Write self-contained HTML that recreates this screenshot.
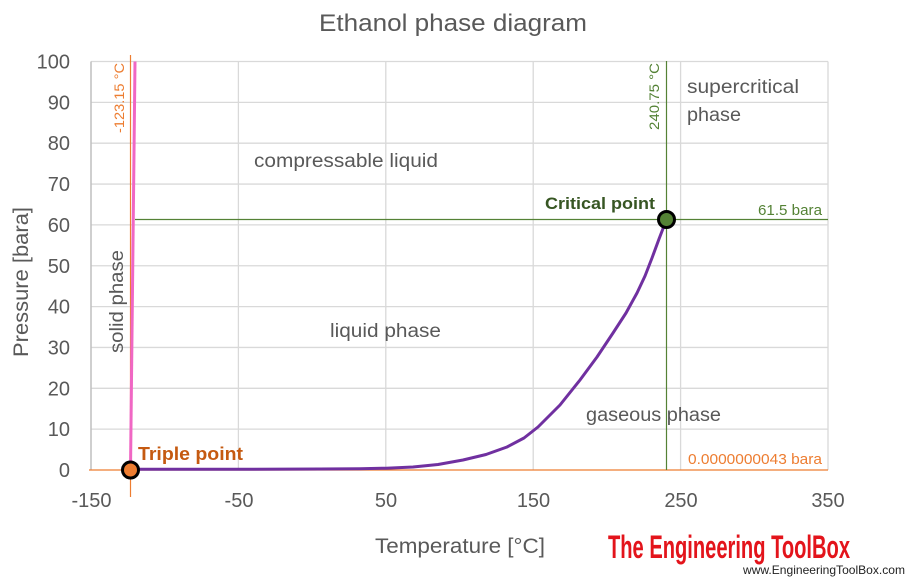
<!DOCTYPE html>
<html>
<head>
<meta charset="utf-8">
<style>
  html,body{margin:0;padding:0;background:#fff;}
  svg{display:block;}
  text{font-family:"Liberation Sans",sans-serif;}
</style>
</head>
<body>
<svg width="912" height="581" viewBox="0 0 912 581" xmlns="http://www.w3.org/2000/svg">
  <rect width="912" height="581" fill="#fff"/>
  <!-- gridlines -->
  <g stroke="#d9d9d9" stroke-width="1.3">
    <line x1="91" y1="429.15" x2="828" y2="429.15"/>
    <line x1="91" y1="388.3" x2="828" y2="388.3"/>
    <line x1="91" y1="347.45" x2="828" y2="347.45"/>
    <line x1="91" y1="306.6" x2="828" y2="306.6"/>
    <line x1="91" y1="265.75" x2="828" y2="265.75"/>
    <line x1="91" y1="224.9" x2="828" y2="224.9"/>
    <line x1="91" y1="184.05" x2="828" y2="184.05"/>
    <line x1="91" y1="143.2" x2="828" y2="143.2"/>
    <line x1="91" y1="102.35" x2="828" y2="102.35"/>
    <line x1="91" y1="61.5" x2="828" y2="61.5"/>
    <line x1="238.4" y1="61.5" x2="238.4" y2="470"/>
    <line x1="385.8" y1="61.5" x2="385.8" y2="470"/>
    <line x1="533.2" y1="61.5" x2="533.2" y2="470"/>
    <line x1="680.6" y1="61.5" x2="680.6" y2="470"/>
    <line x1="828" y1="61.5" x2="828" y2="470"/>
  </g>
  <line x1="91" y1="61.5" x2="91" y2="470" stroke="#bfbfbf" stroke-width="1.5"/>

  <!-- reference lines -->
  <line x1="89" y1="470" x2="828" y2="470" stroke="#ED7D31" stroke-width="1.2"/>
  <line x1="130.5" y1="55" x2="130.5" y2="497" stroke="#ED7D31" stroke-width="1.2"/>
  <line x1="666.5" y1="61" x2="666.5" y2="470" stroke="#548235" stroke-width="1.2"/>
  <line x1="135" y1="219.5" x2="828" y2="219.5" stroke="#548235" stroke-width="1.2"/>

  <!-- melting line -->
  <line x1="130.5" y1="470" x2="135" y2="61.5" stroke="#F067C4" stroke-width="3"/>

  <!-- vapor pressure curve -->
  <polyline fill="none" stroke="#7030A0" stroke-width="3" stroke-linejoin="round" stroke-linecap="round"
    points="130.6,469.3 238,469.3 320,469 360,468.7 386,468.2 413,467 438,464.5 463,460 486,454.5 507,447 524,438 538,427 560,405 580,380 597,357 613,333 626,313 637,293 645,276 652,258 659,239 666.5,219.5"/>

  <!-- markers -->
  <circle cx="130.5" cy="470" r="8" fill="#ED7D31" stroke="#000" stroke-width="3"/>
  <circle cx="666.5" cy="219.5" r="8" fill="#548235" stroke="#000" stroke-width="3"/>

  <!-- title -->
  <text x="319" y="31" font-size="24" fill="#595959" textLength="268" lengthAdjust="spacingAndGlyphs">Ethanol phase diagram</text>

  <!-- y tick labels -->
  <g font-size="20" fill="#595959" text-anchor="end">
    <text x="70" y="477">0</text>
    <text x="70" y="436.2">10</text>
    <text x="70" y="395.3">20</text>
    <text x="70" y="354.5">30</text>
    <text x="70" y="313.6">40</text>
    <text x="70" y="272.8">50</text>
    <text x="70" y="231.9">60</text>
    <text x="70" y="191.1">70</text>
    <text x="70" y="150.2">80</text>
    <text x="70" y="109.4">90</text>
    <text x="70" y="68.5">100</text>
  </g>
  <!-- x tick labels -->
  <g font-size="20" fill="#595959" text-anchor="middle">
    <text x="91.5" y="507">-150</text>
    <text x="239" y="507">-50</text>
    <text x="386" y="507">50</text>
    <text x="533.5" y="507">150</text>
    <text x="681" y="507">250</text>
    <text x="828" y="507">350</text>
  </g>

  <!-- axis titles -->
  <text x="375" y="553" font-size="21" fill="#595959" textLength="170" lengthAdjust="spacingAndGlyphs">Temperature [°C]</text>
  <text transform="translate(28,357) rotate(-90)" font-size="21" fill="#595959" textLength="150" lengthAdjust="spacingAndGlyphs">Pressure [bara]</text>

  <!-- region labels -->
  <g font-size="19" fill="#595959">
    <text x="254" y="167" textLength="184" lengthAdjust="spacingAndGlyphs">compressable liquid</text>
    <text x="330" y="337" textLength="111" lengthAdjust="spacingAndGlyphs">liquid phase</text>
    <text x="586" y="421" textLength="135" lengthAdjust="spacingAndGlyphs">gaseous phase</text>
    <text x="687" y="93" textLength="112" lengthAdjust="spacingAndGlyphs">supercritical</text>
    <text x="687" y="121" textLength="54" lengthAdjust="spacingAndGlyphs">phase</text>
    <text transform="translate(123,353) rotate(-90)" textLength="103" lengthAdjust="spacingAndGlyphs">solid phase</text>
  </g>

  <!-- annotation labels -->
  <text transform="translate(124,133) rotate(-90)" font-size="14" fill="#ED7D31" textLength="70" lengthAdjust="spacingAndGlyphs">-123.15 °C</text>
  <text transform="translate(659,130) rotate(-90)" font-size="14" fill="#548235" textLength="67" lengthAdjust="spacingAndGlyphs">240.75 °C</text>
  <text x="758" y="215" font-size="15" fill="#548235" textLength="64" lengthAdjust="spacingAndGlyphs">61.5 bara</text>
  <text x="688" y="464" font-size="15" fill="#ED7D31" textLength="134" lengthAdjust="spacingAndGlyphs">0.0000000043 bara</text>
  <text x="138" y="460" font-size="18" font-weight="bold" fill="#C55A11" textLength="105" lengthAdjust="spacingAndGlyphs">Triple point</text>
  <text x="545" y="209" font-size="17" font-weight="bold" fill="#375623" textLength="110" lengthAdjust="spacingAndGlyphs">Critical point</text>

  <!-- logo -->
  <text x="608" y="558" font-family="'Liberation Sans Narrow','Liberation Sans',sans-serif" font-size="32" font-weight="bold" fill="#E3141B" textLength="242" lengthAdjust="spacingAndGlyphs">The Engineering ToolBox</text>
  <text x="743" y="574" font-size="12" fill="#222" textLength="162" lengthAdjust="spacingAndGlyphs">www.EngineeringToolBox.com</text>
</svg>
</body>
</html>
